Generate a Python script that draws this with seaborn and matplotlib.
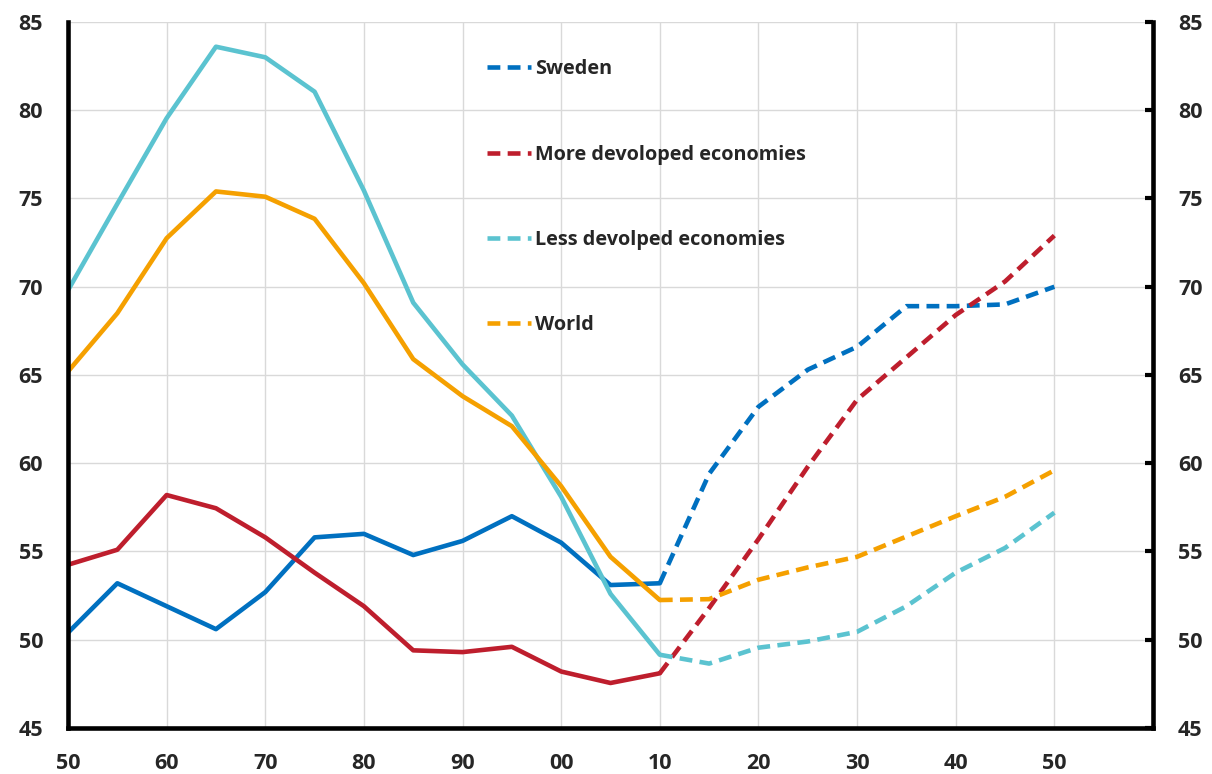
import numpy as np
import pandas as pd
import seaborn as sns
from matplotlib import pyplot as plt
from matplotlib.lines import Line2D

sns.set_style('white')
plt.rcParams['font.family'] = ['Open Sans', 'DejaVu Sans']

# data, every 5 years 1950-2050 (2010 onwards are projections)
years = list(range(1950, 2051, 5))
sweden = [50.4, 53.2, 51.9, 50.6, 52.7, 55.8, 56.0, 54.8, 55.6, 57.0, 55.5,
          53.1, 53.2, 59.4, 63.2, 65.3, 66.6, 68.9, 68.9, 69.0, 70.0]
more_dev = [54.25, 55.1, 58.2, 57.45, 55.8, 53.8, 51.9, 49.4, 49.3, 49.6, 48.2,
            47.55, 48.1, 51.8, 55.7, 59.8, 63.6, 66.0, 68.4, 70.3, 72.9]
less_dev = [69.8, 74.7, 79.55, 83.6, 83.0, 81.05, 75.45, 69.1, 65.6, 62.7, 58.1,
            52.6, 49.15, 48.65, 49.55, 49.9, 50.45, 51.9, 53.8, 55.2, 57.2]
world = [65.2, 68.5, 72.75, 75.4, 75.1, 73.85, 70.2, 65.9, 63.8, 62.1, 58.7,
         54.7, 52.25, 52.3, 53.4, 54.1, 54.7, 55.85, 57.0, 58.1, 59.6]

names = ['Sweden', 'More devoloped economies', 'Less devolped economies', 'World']
colors = ['#0070C0', '#BE1E2D', '#5BC3D0', '#F5A000']
series = [sweden, more_dev, less_dev, world]
split_year = 2010

x_ticks = list(range(1950, 2051, 10))
x_labels = ['50', '60', '70', '80', '90', '00', '10', '20', '30', '40', '50']
y_ticks = list(range(45, 86, 5))

fig = plt.figure(figsize=(12.12, 7.74), dpi=100)
ax = fig.add_axes([68 / 1212, 1 - 728 / 774, (1153 - 68) / 1212, (728 - 22) / 774])

handles = []
for name, col, vals in zip(names, colors, series):
    df = pd.DataFrame({'year': years, 'value': vals})
    hist = df[df['year'] <= split_year]
    proj = df[df['year'] >= split_year]
    sns.lineplot(data=hist, x='year', y='value', color=col, linewidth=3.3, ax=ax)
    sns.lineplot(data=proj, x='year', y='value', color=col, linewidth=3.3, ax=ax)
    ax.lines[-1].set_dashes((2.8, 1.6))
    handles.append(Line2D([0], [0], color=col, linewidth=3.3, dashes=(2.8, 1.6), label=name))

ax.set_xlim(1950, 2060)
ax.set_ylim(45, 85)
ax.set_xticks(x_ticks)
ax.set_xticklabels(x_labels, fontweight='bold', fontsize=15.5)
ax.set_yticks(y_ticks)
ax.set_yticklabels([str(v) for v in y_ticks], fontweight='bold', fontsize=15.5)
ax.grid(True, color='#D9D9D9', linewidth=1)
ax.set_axisbelow(True)
ax.set_xlabel('')
ax.set_ylabel('')

for side in ['left', 'bottom', 'right']:
    ax.spines[side].set_visible(True)
    ax.spines[side].set_color('black')
    ax.spines[side].set_linewidth(3.3)
ax.spines['top'].set_visible(False)

ax.tick_params(axis='both', direction='in', length=6, width=3, color='black',
               labelsize=15.5, pad=18)
ax.tick_params(axis='y', right=True, labelright=True)
for t in ax.yaxis.get_major_ticks():
    t.label2.set_fontweight('bold')

ax.legend(handles=handles, loc='upper left', bbox_to_anchor=(0.3866, 0.947),
          frameon=False, prop={'weight': 'bold', 'size': 14.3},
          labelspacing=3.28, handlelength=2.2, handletextpad=0.2,
          borderaxespad=0, borderpad=0)

plt.savefig('out.png', dpi=100)
plt.close()
